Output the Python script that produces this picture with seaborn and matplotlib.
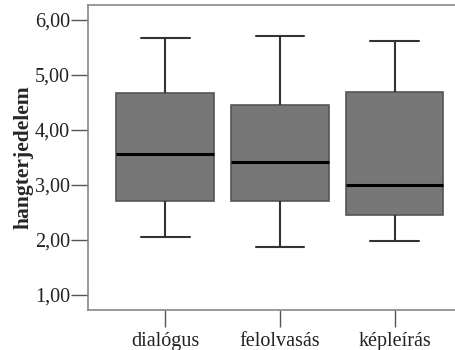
import pandas as pd
import matplotlib.pyplot as plt
import seaborn as sns

# five-number summaries (min, Q1, median, Q3, max)
categories = ["dialógus", "felolvasás", "képleírás"]
dialogus = [2.06, 2.71, 3.56, 4.67, 5.67]
felolvasas = [1.87, 2.70, 3.42, 4.45, 5.70]
kepleiras = [1.98, 2.46, 3.00, 4.69, 5.61]
y_ticks = [1, 2, 3, 4, 5, 6]
y_tick_labels = ["1,00", "2,00", "3,00", "4,00", "5,00", "6,00"]

df = pd.DataFrame({
    "group": [categories[0]] * 5 + [categories[1]] * 5 + [categories[2]] * 5,
    "hangterjedelem": dialogus + felolvasas + kepleiras,
})

sns.set_style("white")
serif = ["Liberation Serif", "DejaVu Serif"]
plt.rcParams["font.family"] = serif

fig = plt.figure(figsize=(4.56, 3.5), dpi=100)
ax = fig.add_axes([88 / 456, 1 - 310 / 350, 1 - 88 / 456 + 0.01, 305 / 350])

# whis=(0, 100) -> whiskers reach min and max
sns.boxplot(data=df, x="group", y="hangterjedelem", order=categories,
            whis=(0, 100), width=0.85, color="#777777", saturation=1,
            linecolor="#333333", linewidth=1.2,
            boxprops=dict(edgecolor="#555555", facecolor="#777777"),
            medianprops=dict(color="black", linewidth=2.2),
            whiskerprops=dict(color="#333333", linewidth=1.5),
            capprops=dict(color="#333333", linewidth=1.5),
            ax=ax)

ax.set_xlim(-0.673, 2.575)
ax.set_ylim(0.727, 6.27)
ax.set_yticks(y_ticks)
ax.set_yticklabels(y_tick_labels)
ax.set_xlabel("")
ax.set_ylabel("hangterjedelem", fontsize=15.5, fontweight="bold", labelpad=1,
              family=serif)

for side in ["left", "bottom", "top"]:
    ax.spines[side].set_color("#888888")
    ax.spines[side].set_linewidth(1.2)
ax.spines["right"].set_visible(False)

ax.tick_params(axis="both", which="major", direction="out", length=12, width=1,
               color="#555555", labelsize=14.5, pad=1, left=True, bottom=True)
ax.tick_params(axis="x", pad=4)
for lab in ax.get_xticklabels() + ax.get_yticklabels():
    lab.set_fontfamily(serif)
    lab.set_color("#222222")

fig.savefig("out.png", dpi=100)
